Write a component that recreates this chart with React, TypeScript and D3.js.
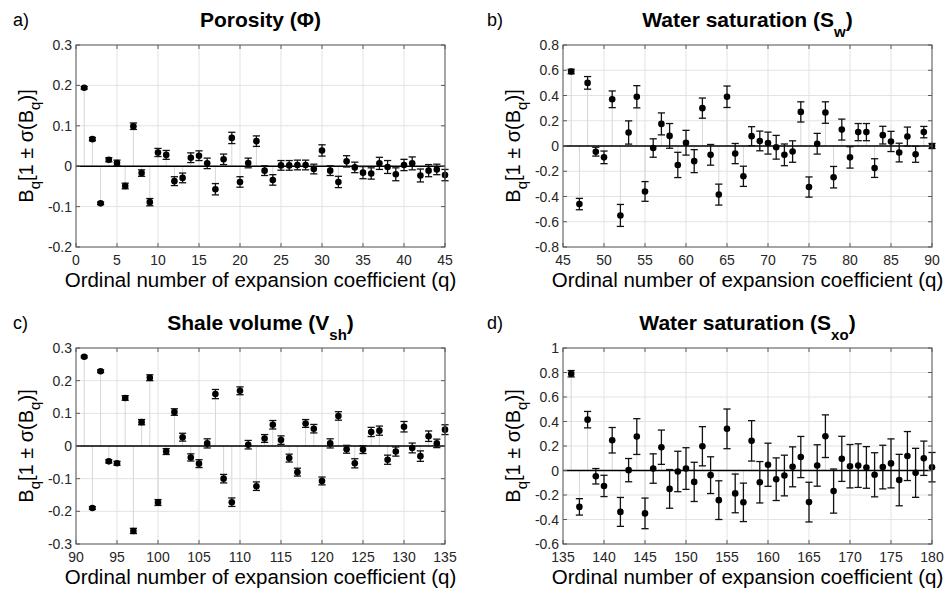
import React from 'react';
import * as d3 from 'd3';

// ---------------- DATA ----------------
const poroQ0 = 1;
const poroVal = [0.194, 0.067, -0.092, 0.016, 0.008, -0.049, 0.099, -0.017, -0.089, 0.034,
  0.028, -0.037, -0.029, 0.021, 0.026, 0.007, -0.057, 0.017, 0.070, -0.039,
  0.008, 0.062, -0.011, -0.034, 0.002, 0.002, 0.003, 0.003, -0.007, 0.039,
  -0.011, -0.039, 0.012, -0.003, -0.016, -0.018, 0.007, -0.002, -0.020, 0.003,
  0.007, -0.023, -0.011, -0.008, -0.022];
const poroErr = [0.003, 0.004, 0.003, 0.005, 0.007, 0.007, 0.008, 0.008, 0.009, 0.010,
  0.011, 0.011, 0.012, 0.012, 0.012, 0.013, 0.014, 0.013, 0.014, 0.013,
  0.012, 0.013, 0.012, 0.013, 0.012, 0.012, 0.012, 0.012, 0.012, 0.014,
  0.012, 0.014, 0.014, 0.013, 0.015, 0.014, 0.015, 0.016, 0.016, 0.014,
  0.016, 0.016, 0.015, 0.013, 0.014];

const swQ0 = 46;
const swVal = [0.59, -0.46, 0.50, -0.045, -0.09, 0.37, -0.55, 0.107, 0.39, -0.36,
  -0.016, 0.175, 0.08, -0.15, 0.026, -0.12, 0.30, -0.07, -0.385, 0.39,
  -0.06, -0.24, 0.078, 0.04, 0.023, -0.01, -0.07, -0.044, 0.27, -0.325,
  0.018, 0.265, -0.247, 0.13, -0.09, 0.11, 0.11, -0.175, 0.086, 0.036,
  -0.052, 0.075, -0.066, 0.11, 0.0];
const swErr = [0.018, 0.045, 0.05, 0.035, 0.05, 0.066, 0.087, 0.092, 0.088, 0.078,
  0.073, 0.087, 0.098, 0.10, 0.098, 0.091, 0.08, 0.082, 0.083, 0.085,
  0.08, 0.08, 0.075, 0.078, 0.087, 0.094, 0.086, 0.085, 0.08, 0.08,
  0.082, 0.085, 0.085, 0.083, 0.085, 0.068, 0.068, 0.074, 0.07, 0.08,
  0.074, 0.075, 0.063, 0.045, 0.02];

const shQ0 = 91;
const shVal = [0.273, -0.19, 0.229, -0.047, -0.053, 0.147, -0.26, 0.073, 0.209, -0.173,
  -0.017, 0.104, 0.027, -0.035, -0.054, 0.008, 0.159, -0.10, -0.172, 0.169,
  0.004, -0.123, 0.023, 0.065, 0.018, -0.037, -0.08, 0.069, 0.053, -0.107,
  0.008, 0.092, -0.01, -0.053, -0.011, 0.043, 0.047, -0.042, -0.017, 0.059,
  -0.006, -0.031, 0.03, 0.008, 0.05];
const shErr = [0.003, 0.004, 0.004, 0.005, 0.006, 0.007, 0.008, 0.008, 0.009, 0.009,
  0.009, 0.010, 0.012, 0.011, 0.012, 0.014, 0.014, 0.013, 0.013, 0.012,
  0.013, 0.013, 0.012, 0.013, 0.013, 0.012, 0.012, 0.012, 0.013, 0.012,
  0.014, 0.013, 0.012, 0.014, 0.012, 0.014, 0.014, 0.014, 0.014, 0.016,
  0.015, 0.016, 0.016, 0.013, 0.015];

const sxoQ0 = 136;
const sxoVal = [0.79, -0.297, 0.415, -0.047, -0.126, 0.247, -0.338, 0.003, 0.277, -0.35,
  0.016, 0.19, -0.15, -0.008, 0.016, -0.093, 0.198, -0.038, -0.242, 0.34,
  -0.187, -0.26, 0.242, -0.096, 0.047, -0.071, -0.041, 0.03, 0.11, -0.258,
  0.041, 0.28, -0.168, 0.095, 0.035, 0.04, 0.025, -0.035, 0.028, 0.058,
  -0.078, 0.118, -0.019, 0.10, 0.027];
const sxoErr = [0.026, 0.067, 0.067, 0.063, 0.087, 0.104, 0.118, 0.095, 0.146, 0.125,
  0.12, 0.14, 0.158, 0.165, 0.17, 0.16, 0.16, 0.15, 0.158, 0.162,
  0.158, 0.157, 0.165, 0.169, 0.176, 0.174, 0.166, 0.163, 0.168, 0.162,
  0.169, 0.174, 0.18, 0.184, 0.177, 0.178, 0.17, 0.18, 0.178, 0.2,
  0.21, 0.2, 0.2, 0.14, 0.12];

const poroXTicks = [0, 5, 10, 15, 20, 25, 30, 35, 40, 45];
const swXTicks = [45, 50, 55, 60, 65, 70, 75, 80, 85, 90];
const shXTicks = [90, 95, 100, 105, 110, 115, 120, 125, 130, 135];
const sxoXTicks = [135, 140, 145, 150, 155, 160, 165, 170, 175, 180];

const poroYTicks = [-0.2, -0.1, 0, 0.1, 0.2, 0.3];
const swYTicks = [-0.8, -0.6, -0.4, -0.2, 0, 0.2, 0.4, 0.6, 0.8];
const shYTicks = [-0.3, -0.2, -0.1, 0, 0.1, 0.2, 0.3];
const sxoYTicks = [-0.6, -0.4, -0.2, 0, 0.2, 0.4, 0.6, 0.8, 1];

const xAxisTitle = 'Ordinal number of expansion coefficient (q)';
const yLabelMid = '[1 \u00B1 \u03C3(B';

// ---------------- LAYOUT ----------------
const W = 947;
const H = 593;
const FONT = '"Liberation Sans", Arial, Helvetica, sans-serif';
const TICK_COLOR = '#262626';

type PanelDef = {
  letter: string;
  titleMain: string;
  titleSub: string;
  q0: number;
  values: number[];
  errors: number[];
  xTicks: number[];
  yTicks: number[];
  left: number;
  right: number;
  top: number;
  bottom: number;
};

const COLS = [
  { left: 76, right: 445, letterX: 13 },
  { left: 563, right: 932, letterX: 487 },
];
const ROWS = [
  { top: 45, bottom: 247 },
  { top: 348, bottom: 544 },
];

const panels: PanelDef[] = [
  { letter: 'a)', titleMain: 'Porosity (\u03A6)', titleSub: '', q0: poroQ0, values: poroVal, errors: poroErr, xTicks: poroXTicks, yTicks: poroYTicks, ...COLS[0], ...ROWS[0] },
  { letter: 'b)', titleMain: 'Water saturation (S', titleSub: 'w', q0: swQ0, values: swVal, errors: swErr, xTicks: swXTicks, yTicks: swYTicks, ...COLS[1], ...ROWS[0] },
  { letter: 'c)', titleMain: 'Shale volume (V', titleSub: 'sh', q0: shQ0, values: shVal, errors: shErr, xTicks: shXTicks, yTicks: shYTicks, ...COLS[0], ...ROWS[1] },
  { letter: 'd)', titleMain: 'Water saturation (S', titleSub: 'xo', q0: sxoQ0, values: sxoVal, errors: sxoErr, xTicks: sxoXTicks, yTicks: sxoYTicks, ...COLS[1], ...ROWS[1] },
];

const fmtTick = (v: number) => {
  const r = Math.round(v * 10) / 10;
  return r === 0 ? '0' : String(r);
};

function Panel({ p, letterX }: { p: PanelDef; letterX: number }) {
  const x = d3.scaleLinear()
    .domain([p.xTicks[0], p.xTicks[p.xTicks.length - 1]])
    .range([p.left, p.right]);
  const y = d3.scaleLinear()
    .domain([p.yTicks[0], p.yTicks[p.yTicks.length - 1]])
    .range([p.bottom, p.top]);

  const pts = p.values.map((v, i) => ({ q: p.q0 + i, v, e: p.errors[i] }));
  const cx = (p.left + p.right) / 2;
  const cy = (p.top + p.bottom) / 2;
  const tickLen = 4;
  const cap = 3.6;

  return (
    <g>
      {/* panel letter */}
      <text x={letterX} y={p.top - 19} fontSize={18} fontFamily={FONT} fill="#000">{p.letter}</text>
      {/* title */}
      <text x={cx} y={p.top - 18} textAnchor="middle" fontSize={21} fontWeight="bold" fontFamily={FONT} fill="#000">
        <tspan>{p.titleMain}</tspan>
        {p.titleSub ? <tspan dy={10} fontSize={15}>{p.titleSub}</tspan> : null}
        {p.titleSub ? <tspan dy={-10}>{')'}</tspan> : null}
      </text>

      {/* background */}
      <rect x={p.left} y={p.top} width={p.right - p.left} height={p.bottom - p.top} fill="#fff" />

      {/* grid */}
      {p.xTicks.map((t) => (
        <line key={'gx' + t} x1={x(t)} x2={x(t)} y1={p.top} y2={p.bottom} stroke="#e3e3e3" strokeWidth={1} />
      ))}
      {p.yTicks.map((t) => (
        <line key={'gy' + t} x1={p.left} x2={p.right} y1={y(t)} y2={y(t)} stroke="#e3e3e3" strokeWidth={1} />
      ))}

      {/* stems */}
      {pts.map((d) => (
        <line key={'s' + d.q} x1={x(d.q)} x2={x(d.q)} y1={y(0)} y2={y(d.v)} stroke="#d6d6d6" strokeWidth={1} />
      ))}

      {/* zero line */}
      <line x1={p.left} x2={p.right} y1={y(0)} y2={y(0)} stroke="#000" strokeWidth={1.5} />

      {/* error bars */}
      {pts.map((d) => {
        const px = x(d.q);
        const y1 = y(d.v + d.e);
        const y2 = y(d.v - d.e);
        return (
          <g key={'e' + d.q} stroke="#111" strokeWidth={1.3}>
            <line x1={px} x2={px} y1={y1} y2={y2} />
            <line x1={px - cap} x2={px + cap} y1={y1} y2={y1} />
            <line x1={px - cap} x2={px + cap} y1={y2} y2={y2} />
          </g>
        );
      })}
      {/* markers */}
      {pts.map((d) => (
        <circle key={'m' + d.q} cx={x(d.q)} cy={y(d.v)} r={3.3} fill="#000" />
      ))}

      {/* box */}
      <rect x={p.left} y={p.top} width={p.right - p.left} height={p.bottom - p.top} fill="none" stroke="#5a5a5a" strokeWidth={1} />

      {/* ticks */}
      {p.xTicks.map((t) => (
        <g key={'tx' + t} stroke="#5a5a5a" strokeWidth={1}>
          <line x1={x(t)} x2={x(t)} y1={p.bottom} y2={p.bottom - tickLen} />
          <line x1={x(t)} x2={x(t)} y1={p.top} y2={p.top + tickLen} />
        </g>
      ))}
      {p.yTicks.map((t) => (
        <g key={'ty' + t} stroke="#5a5a5a" strokeWidth={1}>
          <line x1={p.left} x2={p.left + tickLen} y1={y(t)} y2={y(t)} />
          <line x1={p.right} x2={p.right - tickLen} y1={y(t)} y2={y(t)} />
        </g>
      ))}

      {/* tick labels */}
      {p.xTicks.map((t) => (
        <text key={'lx' + t} x={x(t)} y={p.bottom + 18} textAnchor="middle" fontSize={14} fontFamily={FONT} fill={TICK_COLOR}>{t}</text>
      ))}
      {p.yTicks.map((t) => (
        <text key={'ly' + t} x={p.left - 4} y={y(t)} dy="0.36em" textAnchor="end" fontSize={14} fontFamily={FONT} fill={TICK_COLOR}>{fmtTick(t)}</text>
      ))}

      {/* x axis title */}
      <text x={cx} y={p.bottom + 40} textAnchor="middle" fontSize={20.5} fontFamily={FONT} fill="#000">{xAxisTitle}</text>

      {/* y axis title */}
      <text transform={`translate(${p.left - 43},${cy}) rotate(-90)`} textAnchor="middle" fontSize={20} fontFamily={FONT} fill="#000">
        <tspan>{'B'}</tspan>
        <tspan dy={7} fontSize={15}>{'q'}</tspan>
        <tspan dy={-7}>{yLabelMid}</tspan>
        <tspan dy={7} fontSize={15}>{'q'}</tspan>
        <tspan dy={-7}>{')]'}</tspan>
      </text>
    </g>
  );
}

export default function App() {
  return (
    <svg width={W} height={H} viewBox={`0 0 ${W} ${H}`} style={{ position: 'absolute', left: 0, top: 0, background: '#fff' }}>
      <rect x={0} y={0} width={W} height={H} fill="#fff" />
      {panels.map((p, i) => (
        <Panel key={i} p={p} letterX={COLS[i % 2].letterX} />
      ))}
    </svg>
  );
}
